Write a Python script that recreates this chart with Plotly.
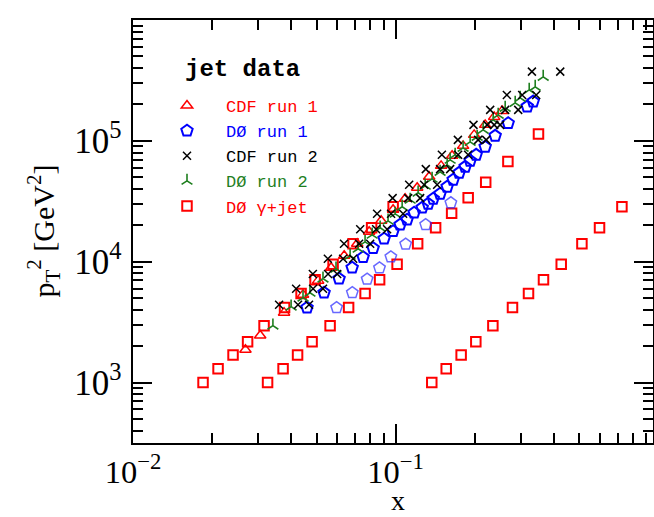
import plotly.graph_objects as go

# ---------------- data (x, pT^2 in GeV^2) ----------------
cdf1_x = [0.0268, 0.0305, 0.0376, 0.0444, 0.0507, 0.0568, 0.0637, 0.0714, 0.0793, 0.0881,
          0.0978, 0.1087, 0.1208, 0.1342, 0.1490, 0.1641, 0.1807, 0.1991, 0.2193, 0.2373, 0.2545]
cdf1_y = [1870, 2450, 3790, 5340, 6970, 8920, 11200, 14100, 17700, 21800,
          26900, 33200, 40900, 50400, 62100, 75200, 90900, 112100, 135600, 157900, 177000]

d01_x = [0.0460, 0.0534, 0.0609, 0.0683, 0.0752, 0.0821, 0.0904, 0.0978, 0.1040, 0.1106,
         0.1176, 0.1262, 0.1330, 0.1390, 0.1477, 0.1571, 0.1656, 0.1745, 0.1840, 0.1922,
         0.2026, 0.2193, 0.2393, 0.2683, 0.3170, 0.3341]
d01_y = [4170, 5540, 7240, 8920, 10900, 12930, 15490, 17870, 20220, 22240,
         25410, 27950, 30150, 33170, 36480, 41670, 47610, 54390, 60980, 68340,
         76610, 89220, 110000, 140100, 192100, 211300]
d01_fwd_x = [0.0596, 0.0684, 0.0779, 0.0868, 0.0959, 0.1092, 0.1301, 0.1623]
d01_fwd_y = [4170, 5540, 7170, 8870, 10960, 13950, 20220, 30730]

cdf2_x = [0.0360, 0.0418, 0.0484, 0.0552, 0.0636, 0.0733, 0.0850, 0.0974, 0.1126, 0.1303,
          0.1500, 0.1726, 0.1979, 0.2291, 0.2652, 0.3303, 0.4234,
          0.0425, 0.0468, 0.0485, 0.0529, 0.0553, 0.0599, 0.0631, 0.0689, 0.0726, 0.0800,
          0.0843, 0.0928, 0.0961, 0.1068, 0.1116, 0.1240, 0.1284, 0.1439, 0.1477, 0.1613,
          0.1730, 0.1888, 0.2062, 0.2212, 0.2232, 0.2373, 0.2500, 0.2613, 0.2929, 0.3033, 0.3430]
cdf2_y = [4410, 5980, 7910, 10590, 14090, 18560, 24930, 33600, 43280, 58370,
          76610, 101900, 135600, 180400, 240000, 373900, 373900,
          4410, 4410, 5980, 5980, 7910, 7910, 10590, 10590, 14090, 14090,
          18560, 18560, 24930, 24930, 33600, 33600, 43280, 43280, 58370, 58370,
          76610, 76610, 101900, 101900, 135600, 135600, 135600, 180400, 180400, 240000, 240000]

d02_x = [0.0341, 0.0400, 0.0444, 0.0472, 0.0529, 0.0593, 0.0671, 0.0720, 0.0765, 0.0814,
         0.0873, 0.0936, 0.0996, 0.1059, 0.1136, 0.1218, 0.1296, 0.1377, 0.1477, 0.1571,
         0.1613, 0.1685, 0.1807, 0.1922, 0.2044, 0.2154, 0.2352, 0.2458, 0.2613, 0.2853,
         0.2981, 0.3226, 0.3400, 0.3647]
d02_y = [2960, 4250, 5040, 5540, 7240, 8750, 11200, 12800, 14600, 16700,
         19100, 21800, 24900, 28500, 32500, 37200, 42500, 48500, 55400, 63300,
         69700, 76600, 87500, 98100, 107900, 123300, 149100, 164000, 187400, 206100,
         226600, 263900, 279500, 338100]

gj1_x = [0.01848, 0.02108, 0.02404, 0.02731, 0.03155, 0.03777, 0.04365, 0.04935, 0.05779,
         0.06886, 0.08101, 0.09784]
gj1_y = [1000, 1300, 1690, 2180, 2950, 4170, 5460, 7100, 9550, 14100, 19100, 28500]
gj2_x = [0.03254, 0.03728, 0.04233, 0.04807, 0.05630, 0.06622, 0.07651, 0.08690, 0.1013,
         0.1213, 0.1420, 0.1634, 0.1889, 0.2203, 0.2676, 0.3499]
gj2_y = [1000, 1300, 1690, 2180, 2950, 4170, 5460, 7100, 9550,
         14100, 19100, 25200, 33800, 45400, 67400, 114000]
gj3_x = [0.1373, 0.1558, 0.1776, 0.2020, 0.2346, 0.2786, 0.3206, 0.3656, 0.4271, 0.5121,
         0.5976, 0.7272]
gj3_y = [1000, 1300, 1690, 2180, 2950, 4170, 5460, 7100, 9550, 14100, 19100, 28500]

RED = "#ff0000"
BLUE = "#0000ff"
GREEN = "#1f7f1f"

fig = go.Figure()

# gamma + jet (three rapidity bands, one legend entry)
for i, (gx, gy) in enumerate([(gj1_x, gj1_y), (gj2_x, gj2_y), (gj3_x, gj3_y)]):
    fig.add_trace(go.Scatter(
        x=gx, y=gy, mode="markers",
        name=f'<span style="color:{RED}">DØ γ+jet</span>',
        legendgroup="gj", showlegend=(i == 0), legendrank=5,
        marker=dict(symbol="square-open", size=9.5, color=RED, line=dict(width=2, color=RED)),
    ))

fig.add_trace(go.Scatter(
    x=d01_fwd_x, y=d01_fwd_y, mode="markers", name="DØ run 1 fwd",
    legendgroup="d01", showlegend=False,
    marker=dict(symbol="pentagon-open", size=12, color="rgba(40,40,255,0.7)",
                line=dict(width=1.5, color="rgba(40,40,255,0.7)")),
))
fig.add_trace(go.Scatter(
    x=d01_x, y=d01_y, mode="markers",
    name=f'<span style="color:{BLUE}">DØ run 1</span>',
    legendgroup="d01", legendrank=2,
    marker=dict(symbol="pentagon-open", size=12, color=BLUE, line=dict(width=2, color=BLUE)),
))
fig.add_trace(go.Scatter(
    x=cdf1_x, y=cdf1_y, mode="markers",
    name=f'<span style="color:{RED}">CDF run 1</span>', legendrank=1,
    marker=dict(symbol="triangle-up-open", size=10, color=RED, line=dict(width=1.5, color=RED)),
))
fig.add_trace(go.Scatter(
    x=d02_x, y=d02_y, mode="markers",
    name=f'<span style="color:{GREEN}">DØ run 2</span>', legendrank=4,
    marker=dict(symbol="y-up-open", size=9, color=GREEN, line=dict(width=1.6, color=GREEN)),
))
fig.add_trace(go.Scatter(
    x=cdf2_x, y=cdf2_y, mode="markers",
    name='<span style="color:#000000">CDF run 2</span>', legendrank=3,
    marker=dict(symbol="x-thin-open", size=8, color="black", line=dict(width=1.5, color="black")),
))

axis_common = dict(
    type="log", showline=True, linewidth=2, linecolor="black", mirror="allticks",
    ticks="inside", ticklen=19, tickwidth=2, tickcolor="black",
    dtick=1, exponentformat="power", showgrid=False, zeroline=False, automargin=False,
    tickfont=dict(family="Liberation Serif", size=28, color="black"),
    minor=dict(ticks="inside", ticklen=10, tickwidth=1.5, tickcolor="black",
               dtick="D1", showgrid=False),
)

fig.update_layout(
    width=654, height=517,
    margin=dict(l=133, r=1, t=20, b=74),
    paper_bgcolor="white", plot_bgcolor="white",
    xaxis=dict(axis_common, range=[-2, -0.02], ticklabelstandoff=0,
               tickfont=dict(family="Liberation Serif", size=26, color="black")),
    yaxis=dict(axis_common, range=[2.5, 6], ticklabelstandoff=4),
    legend=dict(x=(148 - 133) / 520, y=(443 - 88) / 423, xanchor="left", yanchor="top",
                bgcolor="rgba(0,0,0,0)", itemwidth=68, traceorder="normal",
                font=dict(family="Liberation Mono", size=17, color="black")),
    annotations=[
        dict(text="<b>jet data</b>", xref="paper", yref="paper",
             x=(183 - 133) / 520, y=(443 - 70) / 423, xanchor="left", yanchor="middle",
             showarrow=False, font=dict(family="Liberation Mono", size=24, color="black")),
        dict(text="x", xref="paper", yref="paper",
             x=(398 - 133) / 520, y=(443 - 517) / 423, xanchor="center", yanchor="bottom",
             showarrow=False, borderpad=0,
             font=dict(family="Liberation Serif", size=28, color="black")),
        dict(text="p<sub>T</sub><sup>2</sup> [GeV<sup>2</sup>]", xref="paper", yref="paper",
             x=(44 - 133) / 520, y=0.5, xanchor="center", yanchor="middle", textangle=-90,
             showarrow=False, font=dict(family="Liberation Serif", size=30, color="black")),
    ],
)

fig.write_html("out.html")
